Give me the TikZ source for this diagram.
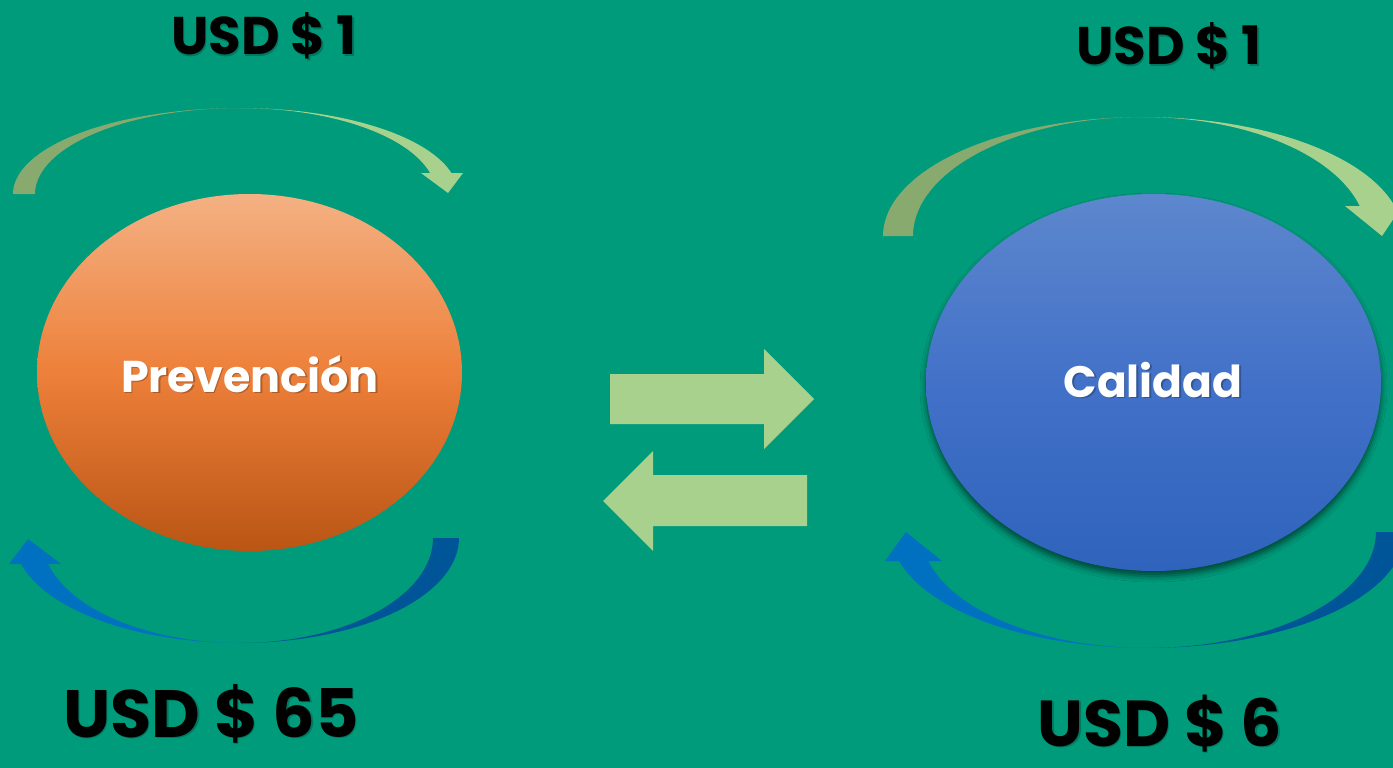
\documentclass[tikz,border=0pt]{standalone}
\usepackage{fontspec}
\setmainfont{Poppins}
\usetikzlibrary{shapes.geometric,shadows.blur}
\definecolor{bg}{RGB}{0,155,123}
\definecolor{olive}{RGB}{137,170,111}
\definecolor{lgreen}{RGB}{169,209,142}
\definecolor{blueA}{RGB}{0,112,192}
\definecolor{blueB}{RGB}{0,85,152}
\definecolor{orTop}{RGB}{244,177,131}
\definecolor{orMid}{RGB}{237,128,58}
\definecolor{orBot}{RGB}{186,85,20}
\definecolor{blTop}{RGB}{93,135,205}
\definecolor{blMid}{RGB}{66,113,200}
\definecolor{blBot}{RGB}{47,99,188}
\tikzset{
  usd/.style={anchor=base,font=\bfseries,text=black},
  usdshadow/.style={anchor=base,font=\bfseries,text=black,opacity=0.22},
  title/.style={anchor=base,font=\bfseries,text=white},
  titleshadow/.style={anchor=base,font=\bfseries,text=black,opacity=0.25},
  bubble/.style={ellipse,inner sep=0pt,draw=none},
}
\begin{document}
\begin{tikzpicture}[x=1pt,y=-1pt]
\fill[bg] (0,0) rectangle (1393,768);
\useasboundingbox (0,0) rectangle (1393,768);

% ellipses
\node[bubble,minimum width=425pt,minimum height=357pt,top color=orTop,bottom color=orBot,middle color=orMid] (prev) at (249.5,372.5) {};
\node[bubble,minimum width=455pt,minimum height=377pt,top color=blTop,bottom color=blBot,middle color=blMid,
  blur shadow={shadow xshift=0pt,shadow yshift=-5pt,shadow blur radius=6pt,shadow opacity=55}] (cal) at (1153.5,382.5) {};

% titles
\node[titleshadow,font=\bfseries\fontsize{44.5}{44.5}\selectfont] at (251.5,393.5) {Prevención};
\node[title,font=\bfseries\fontsize{44.5}{44.5}\selectfont] (prevtext) at (250,392) {Prevención};
\node[titleshadow,font=\bfseries\fontsize{44}{44}\selectfont] at (1154.5,398.5) {Calidad};
\node[title,font=\bfseries\fontsize{44}{44}\selectfont] (caltext) at (1153,397) {Calidad};

% top-left curved arrow
\fill[olive] plot[domain=180:90,samples=40,variable=\t] ({240+227*cos(\t)},{194-86*sin(\t)})
  -- plot[domain=90:180,samples=40,variable=\t] ({240+205*cos(\t)},{194-86*sin(\t)}) -- cycle;
\fill[lgreen] plot[domain=90:14.1,samples=40,variable=\t] ({240+218*cos(\t)},{194-86*sin(\t)})
  -- (463,173) -- (448,193) -- (421,173)
  -- plot[domain=14.1:90,samples=40,variable=\t] ({240+196*cos(\t)},{194-86*sin(\t)}) -- cycle;

% top-right curved arrow
\fill[olive] plot[domain=180:90,samples=40,variable=\t] ({1143+260*cos(\t)},{236-119*sin(\t)})
  -- plot[domain=90:180,samples=40,variable=\t] ({1143+230*cos(\t)},{236-119*sin(\t)}) -- cycle;
\fill[lgreen] plot[domain=90:14.6,samples=40,variable=\t] ({1143+260*cos(\t)},{236-119*sin(\t)})
  -- (1402,206) -- (1382,236) -- (1345,206)
  -- plot[domain=14.6:90,samples=40,variable=\t] ({1143+224*cos(\t)},{236-119*sin(\t)}) -- cycle;

% bottom-left curved arrow
\fill[blueB] plot[domain=0:90,samples=40,variable=\t] ({240+219*cos(\t)},{538+105*sin(\t)})
  -- plot[domain=90:0,samples=40,variable=\t] ({240+193*cos(\t)},{538+105*sin(\t)}) -- cycle;
\fill[blueA] plot[domain=90:165.7,samples=40,variable=\t] ({240+226*cos(\t)},{538+105*sin(\t)})
  -- (9,564) -- (28,539) -- (61,564)
  -- plot[domain=165.7:90,samples=40,variable=\t] ({240+198*cos(\t)},{538+105*sin(\t)}) -- cycle;

% bottom-right curved arrow
\fill[blueB] plot[domain=0:90,samples=40,variable=\t] ({1147+258*cos(\t)},{532+116*sin(\t)})
  -- plot[domain=90:0,samples=40,variable=\t] ({1147+229*cos(\t)},{532+116*sin(\t)}) -- cycle;
\fill[blueA] plot[domain=90:165.5,samples=40,variable=\t] ({1147+256*cos(\t)},{532+116*sin(\t)})
  -- (885,561) -- (906,532) -- (942,561)
  -- plot[domain=165.5:90,samples=40,variable=\t] ({1147+226*cos(\t)},{532+116*sin(\t)}) -- cycle;

% middle arrows
\fill[lgreen] (610,374) -- (764,374) -- (764,349) -- (814,399) -- (764,449) -- (764,424) -- (610,424) -- cycle;
\fill[lgreen] (807,475) -- (653,475) -- (653,451) -- (603,501) -- (653,551) -- (653,526) -- (807,526) -- cycle;

% amounts
\node[usdshadow,font=\bfseries\fontsize{53}{53}\selectfont] at (265.5,56.5) {USD \$ 1};
\node[usd,font=\bfseries\fontsize{53}{53}\selectfont] (usdA) at (264,55) {USD \$ 1};
\node[usdshadow,font=\bfseries\fontsize{53}{53}\selectfont] at (1170.5,66.5) {USD \$ 1};
\node[usd,font=\bfseries\fontsize{53}{53}\selectfont] (usdB) at (1169,65) {USD \$ 1};
\node[usdshadow,font=\bfseries\fontsize{67}{67}\selectfont] at (212.5,738.5) {USD \$ 65};
\node[usd,font=\bfseries\fontsize{67}{67}\selectfont] (usdC) at (211,737) {USD \$ 65};
\node[usdshadow,font=\bfseries\fontsize{65}{65}\selectfont] at (1161.5,747.5) {USD \$ 6};
\node[usd,font=\bfseries\fontsize{65}{65}\selectfont] (usdD) at (1160,746) {USD \$ 6};
\end{tikzpicture}
\end{document}
